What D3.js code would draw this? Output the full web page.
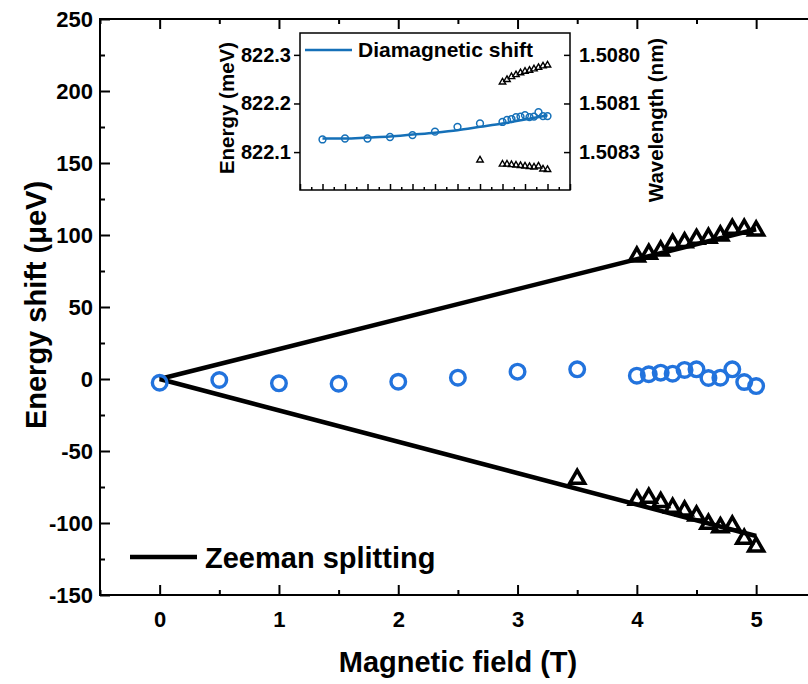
<!DOCTYPE html>
<html>
<head>
<meta charset="utf-8">
<script src="https://cdn.jsdelivr.net/npm/d3@7"></script>
<style>
  body { margin: 0; background: #fff; }
  text { font-family: "Liberation Sans", Arial, sans-serif; font-weight: bold; fill: #000; }
  .axis path.domain { display: none; }
  .axis line { stroke: #000; stroke-width: 2; }
</style>
</head>
<body>
<div id="chart"></div>
<script>
// Main panel data (energy shift, ueV)
const field = [0, 0.5, 1, 1.5, 2, 2.5, 3, 3.5, 4, 4.1, 4.2, 4.3, 4.4, 4.5, 4.6, 4.7, 4.8, 4.9, 5.0];
const centerShift = [-2.6, -0.7, -3.0, -3.3, -1.9, 0.9, 5.1, 6.7, 2.3, 3.3, 4.4, 3.7, 6.3, 6.7, 0.7, 0.9, 6.7, -2.1, -4.9];

const upperField = [4, 4.1, 4.2, 4.3, 4.4, 4.5, 4.6, 4.7, 4.8, 4.9, 5.0];
const upperShift = [84.9, 86.8, 89.1, 93.8, 94.9, 97.2, 97.9, 99.5, 104.2, 104.2, 103.0];

const lowerField = [3.5, 4, 4.1, 4.2, 4.3, 4.4, 4.5, 4.6, 4.7, 4.8, 4.9, 5.0];
const lowerShift = [-69.4, -84.0, -82.6, -85.6, -89.6, -91.5, -94.9, -100.7, -103.0, -101.9, -111.1, -116.5];

// Zeeman fit lines (end points)
const zeemanField = [0, 5];
const zeemanUpper = [0, 104];
const zeemanLower = [0, -109];

// Inset data (energy, meV)
const insetCenter = [822.126, 822.128, 822.128, 822.131, 822.135, 822.142, 822.152, 822.159, 822.162, 822.166,
  822.168, 822.172, 822.173, 822.176, 822.172, 822.173, 822.182, 822.174, 822.174];
const insetUpper = [822.244, 822.249, 822.255, 822.259, 822.263, 822.266, 822.268, 822.271, 822.274, 822.277, 822.279];
const insetLower = [822.0835, 822.075, 822.075, 822.074, 822.073, 822.072, 822.071, 822.070, 822.069, 822.071, 822.065, 822.064];

// Diamagnetic fit curve
const diaField = [0, 0.5, 1, 1.5, 2, 2.5, 3, 3.5, 4, 4.5, 5];
const diaEnergy = [822.128, 822.128, 822.130, 822.132, 822.136, 822.140, 822.145, 822.152, 822.159, 822.167, 822.176];

// Tick labels
const xTicks = [0, 1, 2, 3, 4, 5];
const yTicks = [-150, -100, -50, 0, 50, 100, 150, 200, 250];
const insetYTicks = [822.1, 822.2, 822.3];
const wavelengthLabels = ["1.5083", "1.5081", "1.5080"];

const svgWidth = 808;
const svgHeight = 684;

const svg = d3.select("#chart")
  .append("svg")
  .attr("width", svgWidth)
  .attr("height", svgHeight);

// ----- main panel -----
const x = d3.scaleLinear().domain([-0.5, 5.5]).range([100, 815.8]);
const y = d3.scaleLinear().domain([-150, 250]).range([595, 19]);

const minorX = d3.range(-0.5, 5.6, 0.5).filter(d => !xTicks.includes(d));
const minorY = d3.range(-125, 250, 50);

// bottom axis
svg.append("g")
  .attr("class", "axis")
  .attr("transform", `translate(0, ${y(-150)})`)
  .call(d3.axisBottom(x).tickValues(xTicks).tickSizeInner(-10).tickSizeOuter(0).tickPadding(16)
    .tickFormat(d => String(d)))
  .selectAll("text").style("font-size", "22px");
svg.append("g")
  .attr("class", "axis")
  .attr("transform", `translate(0, ${y(-150)})`)
  .call(d3.axisBottom(x).tickValues(minorX).tickSizeInner(-5).tickSizeOuter(0).tickFormat(""));

// top axis
svg.append("g")
  .attr("class", "axis")
  .attr("transform", `translate(0, ${y(250)})`)
  .call(d3.axisTop(x).tickValues(xTicks).tickSizeInner(-10).tickSizeOuter(0).tickFormat(""));
svg.append("g")
  .attr("class", "axis")
  .attr("transform", `translate(0, ${y(250)})`)
  .call(d3.axisTop(x).tickValues(minorX).tickSizeInner(-5).tickSizeOuter(0).tickFormat(""));

// left axis
svg.append("g")
  .attr("class", "axis")
  .attr("transform", `translate(${x(-0.5)}, 0)`)
  .call(d3.axisLeft(y).tickValues(yTicks).tickSizeInner(-10).tickSizeOuter(0).tickPadding(7)
    .tickFormat(d => String(d)))
  .selectAll("text").style("font-size", "22px");
svg.append("g")
  .attr("class", "axis")
  .attr("transform", `translate(${x(-0.5)}, 0)`)
  .call(d3.axisLeft(y).tickValues(minorY).tickSizeInner(-5).tickSizeOuter(0).tickFormat(""));

// frame lines
svg.append("line")
  .attr("x1", x(-0.5)).attr("x2", svgWidth)
  .attr("y1", y(250)).attr("y2", y(250))
  .attr("stroke", "#000").attr("stroke-width", 2);
svg.append("line")
  .attr("x1", x(-0.5) - 1).attr("x2", svgWidth)
  .attr("y1", y(-150)).attr("y2", y(-150))
  .attr("stroke", "#000").attr("stroke-width", 2);
svg.append("line")
  .attr("x1", x(-0.5)).attr("x2", x(-0.5))
  .attr("y1", y(250) - 1).attr("y2", y(-150) + 1)
  .attr("stroke", "#000").attr("stroke-width", 2);

// Zeeman lines
const zLine = d3.line().x(d => x(d[0])).y(d => y(d[1]));
[zeemanUpper, zeemanLower].forEach(vals => {
  svg.append("path")
    .datum(zeemanField.map((f, i) => [f, vals[i]]))
    .attr("d", zLine)
    .attr("fill", "none")
    .attr("stroke", "#000")
    .attr("stroke-width", 4.5);
});

// triangles
const bigTri = d3.symbol().type(d3.symbolTriangle).size(95);
const triData = upperField.map((f, i) => [f, upperShift[i]])
  .concat(lowerField.map((f, i) => [f, lowerShift[i]]));
svg.selectAll(".tri")
  .data(triData)
  .enter()
  .append("path")
  .attr("class", "tri")
  .attr("transform", d => `translate(${x(d[0])}, ${y(d[1])})`)
  .attr("d", bigTri)
  .attr("fill", "none")
  .attr("stroke", "#000")
  .attr("stroke-width", 3.6)
  .attr("stroke-linejoin", "miter");

// circles
svg.selectAll(".ctr")
  .data(field)
  .enter()
  .append("circle")
  .attr("class", "ctr")
  .attr("cx", d => x(d))
  .attr("cy", (d, i) => y(centerShift[i]))
  .attr("r", 7.3)
  .attr("fill", "none")
  .attr("stroke", "#2273dd")
  .attr("stroke-width", 3.4);

// legend
svg.append("line")
  .attr("x1", 130).attr("x2", 197)
  .attr("y1", 557).attr("y2", 557)
  .attr("stroke", "#000").attr("stroke-width", 4.5);
svg.append("text")
  .attr("x", 205).attr("y", 568)
  .style("font-size", "29px")
  .text("Zeeman splitting");

// axis titles
svg.append("text")
  .attr("x", 458).attr("y", 672)
  .attr("text-anchor", "middle")
  .style("font-size", "29px")
  .text("Magnetic field (T)");
svg.append("text")
  .attr("transform", "translate(46, 305) rotate(-90)")
  .attr("text-anchor", "middle")
  .style("font-size", "29px")
  .text("Energy shift (\u03bceV)");

// ----- inset -----
const ix = d3.scaleLinear().domain([-0.5, 5.5]).range([300, 570]);
const iy = d3.scaleLinear().domain([822.022, 822.345]).range([190, 33]);

const inset = svg.append("g");
inset.append("rect")
  .attr("x", 300).attr("y", 33)
  .attr("width", 270).attr("height", 157)
  .attr("fill", "#fff")
  .attr("stroke", "#000")
  .attr("stroke-width", 1.5);

const insetMajorX = d3.range(-0.5, 5.6, 0.5);
const insetMinorX = d3.range(-0.25, 5.5, 0.5);
inset.append("g")
  .attr("class", "axis")
  .attr("transform", "translate(0, 190)")
  .call(d3.axisBottom(ix).tickValues(insetMajorX).tickSizeInner(-6).tickSizeOuter(0).tickFormat(""))
  .selectAll("line").style("stroke-width", 1.5);
inset.append("g")
  .attr("class", "axis")
  .attr("transform", "translate(0, 190)")
  .call(d3.axisBottom(ix).tickValues(insetMinorX).tickSizeInner(-3).tickSizeOuter(0).tickFormat(""))
  .selectAll("line").style("stroke-width", 1.5);

const leftIn = inset.append("g")
  .attr("class", "axis")
  .attr("transform", "translate(300, 0)")
  .call(d3.axisLeft(iy).tickValues(insetYTicks).tickSize(6).tickPadding(3).tickFormat(d3.format(".1f")));
leftIn.selectAll("line").style("stroke-width", 1.5);
leftIn.selectAll("text").style("font-size", "20px");

const rightIn = inset.append("g")
  .attr("class", "axis")
  .attr("transform", "translate(570, 0)")
  .call(d3.axisRight(iy).tickValues(insetYTicks).tickSize(-6).tickPadding(9)
    .tickFormat((d, i) => wavelengthLabels[i]));
rightIn.selectAll("line").style("stroke-width", 1.5);
rightIn.selectAll("text").style("font-size", "20px");

// diamagnetic fit
inset.append("path")
  .datum(diaField.map((f, i) => [f, diaEnergy[i]]))
  .attr("d", d3.line().x(d => ix(d[0])).y(d => iy(d[1])).curve(d3.curveMonotoneX))
  .attr("fill", "none")
  .attr("stroke", "#1570b8")
  .attr("stroke-width", 2.5);

inset.selectAll(".ictr")
  .data(field)
  .enter()
  .append("circle")
  .attr("class", "ictr")
  .attr("cx", d => ix(d))
  .attr("cy", (d, i) => iy(insetCenter[i]))
  .attr("r", 3.4)
  .attr("fill", "none")
  .attr("stroke", "#1570b8")
  .attr("stroke-width", 1.5);

const smallTri = d3.symbol().type(d3.symbolTriangle).size(18);
const insetTri = upperField.map((f, i) => [f, insetUpper[i]])
  .concat(lowerField.map((f, i) => [f, insetLower[i]]));
inset.selectAll(".itri")
  .data(insetTri)
  .enter()
  .append("path")
  .attr("class", "itri")
  .attr("transform", d => `translate(${ix(d[0])}, ${iy(d[1])})`)
  .attr("d", smallTri)
  .attr("fill", "none")
  .attr("stroke", "#000")
  .attr("stroke-width", 1.4);

// inset legend
inset.append("line")
  .attr("x1", 305).attr("x2", 352)
  .attr("y1", 50).attr("y2", 50)
  .attr("stroke", "#1570b8").attr("stroke-width", 2.5);
inset.append("text")
  .attr("x", 358).attr("y", 57)
  .style("font-size", "21px")
  .text("Diamagnetic shift");

// inset titles
inset.append("text")
  .attr("transform", "translate(234, 108) rotate(-90)")
  .attr("text-anchor", "middle")
  .style("font-size", "20.5px")
  .text("Energy (meV)");
inset.append("text")
  .attr("transform", "translate(663, 120) rotate(-90)")
  .attr("text-anchor", "middle")
  .style("font-size", "20.5px")
  .text("Wavelength (nm)");
</script>
</body>
</html>
